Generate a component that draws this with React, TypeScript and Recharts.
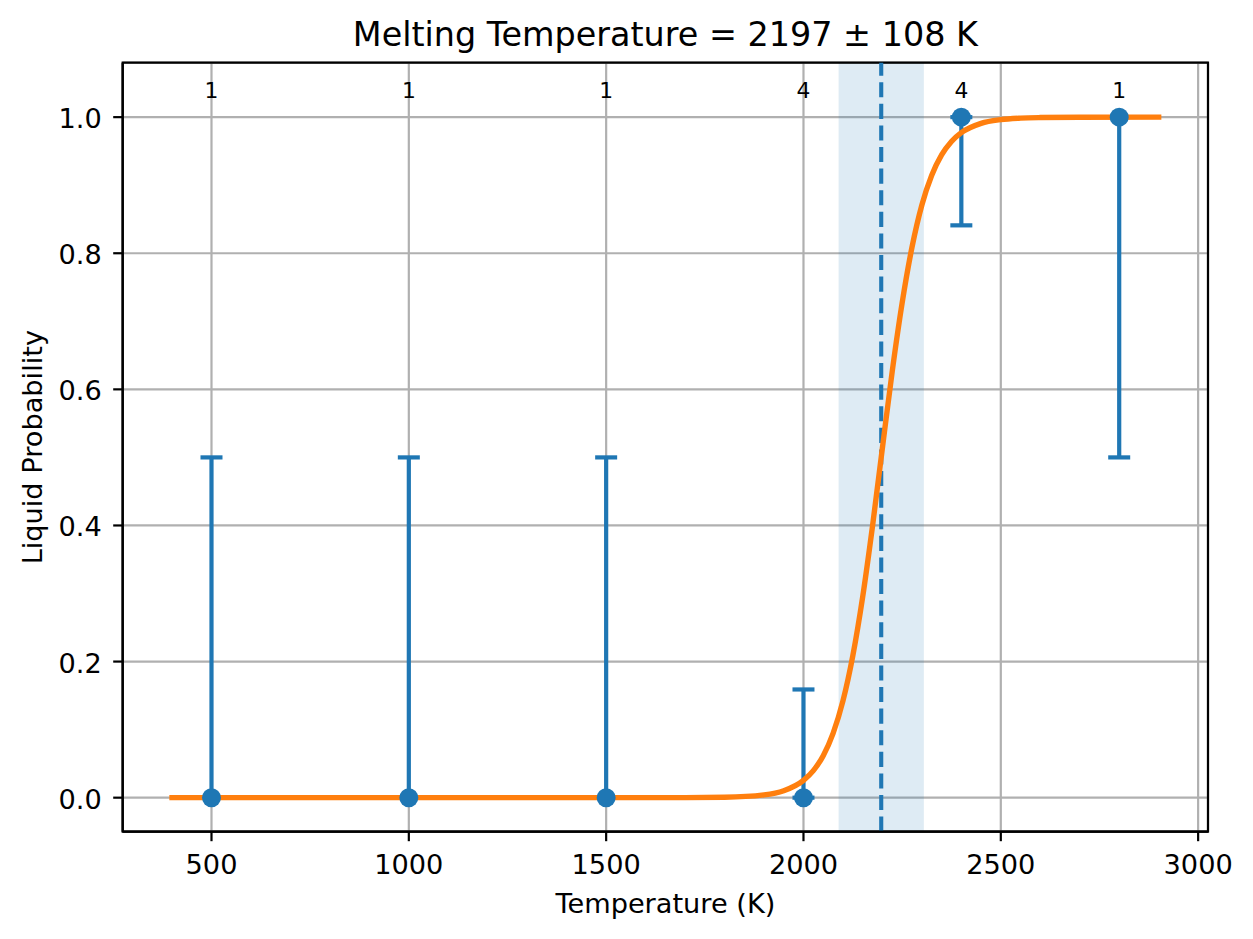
import React from 'react';
import {
  ComposedChart,
  XAxis,
  YAxis,
  CartesianGrid,
  Line,
  Scatter,
  ErrorBar,
  ReferenceArea,
  ReferenceLine,
  ReferenceDot,
} from 'recharts';

// Measured points
const temperatures = [500, 1000, 1500, 2000, 2400, 2800];
const liquidProbability = [0, 0, 0, 0, 1, 1];
const errorBelow = [0, 0, 0, 0, 0.159, 0.5];
const errorAbove = [0.5, 0.5, 0.5, 0.159, 0, 0];
const sampleCounts = [1, 1, 1, 4, 4, 1];

// Fitted curve
const fitTemperatures = [
  400, 1600, 1700, 1800, 1900, 1950, 2000, 2025, 2050, 2075, 2100, 2125, 2150, 2175,
  2200, 2225, 2250, 2275, 2300, 2325, 2350, 2375, 2400, 2450, 2500, 2550, 2600, 2700, 2900,
];
const fitProbability = [
  0, 0, 0.0001, 0.0006, 0.0041, 0.0102, 0.0254, 0.0397, 0.0617, 0.0946, 0.1423, 0.2086, 0.2951, 0.3995,
  0.514, 0.627, 0.727, 0.809, 0.871, 0.9146, 0.9445, 0.9643, 0.9772, 0.9909, 0.9964, 0.9986, 0.9994, 0.9999, 1,
];

const meltingTemp = 2197;
const meltingErr = 108;
const countLabelY = 1.02;

const xTicks = [500, 1000, 1500, 2000, 2500, 3000];
const yTicks = [0, 0.2, 0.4, 0.6, 0.8, 1.0];
const xDomain = [275, 3025];
const yDomain = [-0.05, 1.08];

const points = temperatures.map((t, i) => ({
  x: t,
  y: liquidProbability[i],
  err: [errorBelow[i], errorAbove[i]],
}));
const fitData = fitTemperatures.map((t, i) => ({ x: t, y: fitProbability[i] }));

const FONT = '"DejaVu Sans", sans-serif';
const BLUE = '#1f77b4';
const ORANGE = '#ff7f0e';

const XTick = (props: any) => (
  <text x={props.x} y={props.y + 32.8} textAnchor="middle" fontSize={27.2} fontFamily={FONT} fill="#000">
    {props.payload.value}
  </text>
);

const YTick = (props: any) => (
  <text x={props.x} y={props.y + 11} textAnchor="end" fontSize={27.2} fontFamily={FONT} fill="#000">
    {Number(props.payload.value).toFixed(1)}
  </text>
);

export default function App() {
  return (
    <div style={{ position: 'absolute', left: 0, top: 0, width: 1253, height: 939, background: '#fff', fontFamily: FONT }}>
      <ComposedChart width={1253} height={939} margin={{ top: 62.7, right: 45, bottom: 0, left: 0 }}>
        <CartesianGrid stroke="#b0b0b0" strokeWidth={2.2} />
        <ReferenceArea
          x1={meltingTemp - meltingErr}
          x2={meltingTemp + meltingErr}
          fill={BLUE}
          fillOpacity={0.15}
          stroke="none"
        />
        <XAxis
          dataKey="x"
          type="number"
          domain={xDomain}
          ticks={xTicks}
          allowDataOverflow
          interval={0}
          height={107.3}
          tickSize={9.5}
          tickMargin={0}
          tick={<XTick />}
          axisLine={{ stroke: '#000', strokeWidth: 2.2 }}
          tickLine={{ stroke: '#000', strokeWidth: 2.2 }}
        />
        <YAxis
          type="number"
          domain={yDomain}
          ticks={yTicks}
          allowDataOverflow
          interval={0}
          width={122.7}
          tickSize={9.5}
          tickMargin={11.5}
          tick={<YTick />}
          axisLine={{ stroke: '#000', strokeWidth: 2.2 }}
          tickLine={{ stroke: '#000', strokeWidth: 2.2 }}
        />
        <ReferenceLine x={meltingTemp} stroke={BLUE} strokeWidth={4.1} strokeDasharray="15.1 6.5" />
        <Scatter data={points} dataKey="y" shape={() => <g />} isAnimationActive={false}>
          <ErrorBar dataKey="err" direction="y" width={11} stroke={BLUE} strokeWidth={4.2} isAnimationActive={false} />
        </Scatter>
        <Line
          data={fitData}
          dataKey="y"
          type="monotone"
          stroke={ORANGE}
          strokeWidth={5.4}
          strokeLinecap="square"
          dot={false}
          activeDot={false}
          isAnimationActive={false}
        />
        <Scatter
          data={points}
          dataKey="y"
          shape={(p: any) => <circle cx={p.cx} cy={p.cy} r={9.5} fill={BLUE} />}
          isAnimationActive={false}
        />
        {temperatures.map((t, i) => (
          <ReferenceDot
            key={'c' + i}
            x={t}
            y={countLabelY}
            r={0}
            shape={(p: any) => (
              <text x={p.cx} y={p.cy - 5.1} textAnchor="middle" fontSize={21.8} fontFamily={FONT} fill="#000">
                {sampleCounts[i]}
              </text>
            )}
          />
        ))}
        <ReferenceArea
          x1={xDomain[0]}
          x2={xDomain[1]}
          y1={yDomain[0]}
          y2={yDomain[1]}
          fill="none"
          stroke="#000"
          strokeWidth={2.2}
        />
      </ComposedChart>
      <svg
        width={1253}
        height={939}
        style={{ position: 'absolute', left: 0, top: 0, pointerEvents: 'none' }}
      >
        <text x={665.4} y={46} textAnchor="middle" fontSize={33.4} fontFamily={FONT} fill="#000">
          Melting Temperature = 2197 ± 108 K
        </text>
        <text x={665.4} y={912.7} textAnchor="middle" fontSize={27.2} fontFamily={FONT} fill="#000">
          Temperature (K)
        </text>
        <text
          transform="translate(41.7,447.2) rotate(-90)"
          textAnchor="middle"
          fontSize={27.2}
          fontFamily={FONT}
          fill="#000"
        >
          Liquid Probability
        </text>
      </svg>
    </div>
  );
}
